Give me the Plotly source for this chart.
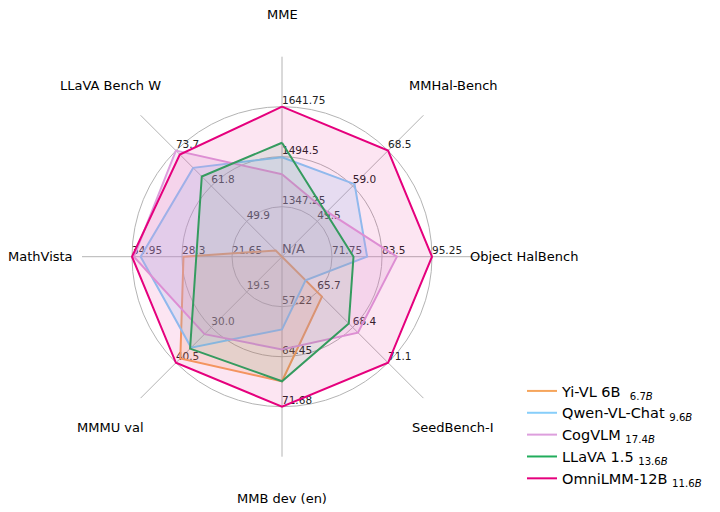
import math
import plotly.graph_objects as go

categories = ["MME", "MMHal-Bench", "Object HalBench", "SeedBench-I",
              "MMB dev (en)", "MMMU val", "MathVista", "LLaVA Bench W"]

# tick labels on each axis (inner, middle, outer ring)
tick_labels = [
    ["1347.25", "1494.5", "1641.75"],
    ["49.5", "59.0", "68.5"],
    ["71.75", "83.5", "95.25"],
    ["65.7", "68.4", "71.1"],
    ["57.22", "64.45", "71.68"],
    ["19.5", "30.0", "40.5"],
    ["21.65", "28.3", "34.95"],
    ["49.9", "61.8", "73.7"],
]

series_names = ["Yi-VL 6B  <sub>6.7<i>B</i></sub>", "Qwen-VL-Chat <sub>9.6<i>B</i></sub>",
                "CogVLM <sub>17.4<i>B</i></sub>", "LLaVA 1.5 <sub>13.6<i>B</i></sub>",
                "OmniLMM-12B <sub>11.6<i>B</i></sub>"]

yi_vl = [None, None, None, 66.05, 68.0, 39.2, 28.1, 40.1]
qwen_vl = [1493, 59.5, 80.0, 64.8, 60.5, 36.0, 33.8, 67.9]
cogvlm = [1443, 52.1, 87.0, 68.8, 63.4, 32.0, 34.7, 73.7]
llava15 = [1535.7, 51.8, 76.8, 68.1, 68.0, 36.3, 26.4, 65.0]
omnilmm = [1641.75, 68.5, 95.25, 71.1, 71.68, 40.5, 34.95, 72.4]

series_values = [yi_vl, qwen_vl, cogvlm, llava15, omnilmm]
colors = ["#f6a55c", "#87cefa", "#dd9fdd", "#22ad5c", "#e5007d"]
fills = ["rgba(246,165,92,0.18)", "rgba(135,206,250,0.20)", "rgba(221,159,221,0.20)",
         "rgba(34,173,92,0.10)", "rgba(229,0,125,0.10)"]

W, H = 720, 512
OX, OY = -6, -8          # page offset compensation (px)
CX, CY = 280 + OX, 256.7 + OY   # centre in px from top-left
RPX = 200                # radius of polar area in px
RLAB = 242               # radius of category labels in px


def scale(i, v):
    t1 = float(tick_labels[i][0])
    t2 = float(tick_labels[i][1])
    step = t2 - t1
    lo = t1 - step
    if v is None:
        return 0.0
    return (v - lo) / step


fig = go.Figure()

# tick value labels (drawn first so fills tint them)
tr, tt, tx = [], [], []
for i, cat in enumerate(categories):
    for k, lab in enumerate(tick_labels[i]):
        tr.append(k + 1)
        tt.append(cat)
        tx.append(lab)
fig.add_trace(go.Scatterpolar(r=tr, theta=tt, text=tx, mode="text",
                              textposition="top right",
                              textfont=dict(size=10.5, color="#222222", family="DejaVu Sans"),
                              showlegend=False, hoverinfo="skip"))
fig.add_trace(go.Scatterpolar(r=[0], theta=[categories[0]], text=["N/A"], mode="text",
                              textposition="top right",
                              textfont=dict(size=13, color="#333333", family="DejaVu Sans"),
                              showlegend=False, hoverinfo="skip"))

for name, vals, c, f in zip(series_names, series_values, colors, fills):
    r = [scale(i, v) for i, v in enumerate(vals)]
    fig.add_trace(go.Scatterpolar(r=r + [r[0]], theta=categories + [categories[0]],
                                  mode="lines", name=name, showlegend=False,
                                  line=dict(color=c, width=2),
                                  fill="toself", fillcolor=f))

# plain line legend entries
for name, c in zip(series_names, colors):
    fig.add_trace(go.Scatterpolar(r=[0], theta=[categories[0]], mode="lines", name=name,
                                  line=dict(color=c, width=2), hoverinfo="skip"))

# category labels outside the grid
n = len(categories)
for i, cat in enumerate(categories):
    ang = 2 * math.pi * i / n
    px = CX + RLAB * math.sin(ang)
    py = CY - RLAB * math.cos(ang)
    fig.add_annotation(x=px / W, y=1 - py / H, xref="paper", yref="paper",
                       text=cat, showarrow=False, xanchor="center", yanchor="middle",
                       font=dict(size=13, color="#000000", family="DejaVu Sans"))

fig.update_layout(
    width=W, height=H,
    margin=dict(l=0, r=0, t=0, b=0),
    paper_bgcolor="white",
    font=dict(family="DejaVu Sans"),
    polar=dict(
        domain=dict(x=[(CX - RPX) / W, (CX + RPX) / W],
                    y=[1 - (CY + RPX) / H, 1 - (CY - RPX) / H]),
        bgcolor="white",
        gridshape="circular",
        radialaxis=dict(range=[0, 4], tickvals=[1, 2, 3], showticklabels=False,
                        showline=False, ticks="", gridcolor="#b4b4b4", gridwidth=1),
        angularaxis=dict(rotation=90, direction="clockwise", showticklabels=False,
                         ticks="", showline=False, gridcolor="#b4b4b4", gridwidth=1),
    ),
    legend=dict(x=514 / W, y=1 - 367 / H, xanchor="left", yanchor="top",
                font=dict(size=14.5, color="#000000", family="DejaVu Sans"),
                bgcolor="rgba(0,0,0,0)"),
)

fig.write_html("out.html")
